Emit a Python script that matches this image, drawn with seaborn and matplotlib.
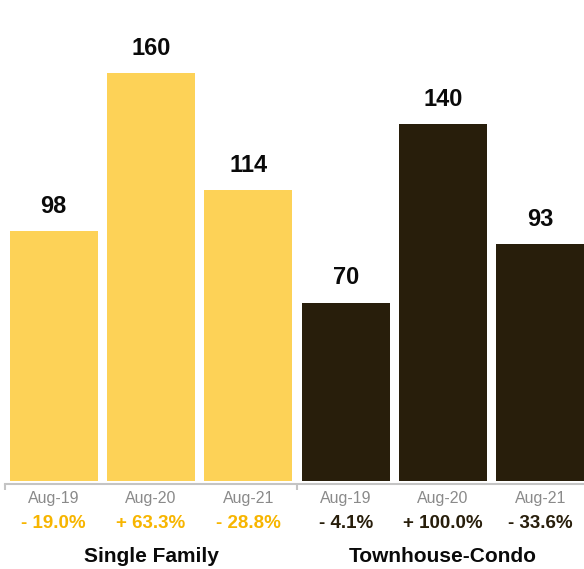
import matplotlib
matplotlib.use("Agg")
import matplotlib.pyplot as plt
import matplotlib.transforms as mtransforms
import seaborn as sns
import pandas as pd

# Closed sales by property type, same month across three years
groups = ["Single Family", "Single Family", "Single Family",
          "Townhouse-Condo", "Townhouse-Condo", "Townhouse-Condo"]
periods = ["Aug-19", "Aug-20", "Aug-21", "Aug-19", "Aug-20", "Aug-21"]
values = [98, 160, 114, 70, 140, 93]
changes = ["- 19.0%", "+ 63.3%", "- 28.8%", "- 4.1%", "+ 100.0%", "- 33.6%"]
group_names = ["Single Family", "Townhouse-Condo"]

bar_colors = {"Single Family": "#fdd257", "Townhouse-Condo": "#281e0b"}
change_colors = {"Single Family": "#f7b500", "Townhouse-Condo": "#281e0b"}

df = pd.DataFrame({
    "slot": [f"{g} {p}" for g, p in zip(groups, periods)],
    "group": groups,
    "period": periods,
    "value": values,
})

sns.set_style("white")
plt.rcParams["font.family"] = ["Liberation Sans", "DejaVu Sans"]

W, H = 584, 569
fig = plt.figure(figsize=(W / 100, H / 100), dpi=100)
ax = fig.add_axes([5 / W, 88 / H, 584 / W, 481 / H])

sns.barplot(data=df, x="slot", y="value", hue="group", palette=bar_colors,
            dodge=False, width=0.905, legend=False, ax=ax, saturation=1,
            linewidth=0, edgecolor="none")

ax.set_xlim(-0.5, 5.5)
ax.set_ylim(0, 481 / 2.55)

for cont in ax.containers:
    ax.bar_label(cont, fmt="%d", padding=9.5, fontsize=17, fontweight="bold",
                 color="#0a0a0a")

# Axis styling: only a light bottom rule with ticks at group boundaries
for side in ["top", "left", "right"]:
    ax.spines[side].set_visible(False)
ax.spines["bottom"].set_color("#c4c4c4")
ax.spines["bottom"].set_linewidth(1.5)
ax.spines["bottom"].set_position(("outward", 2.5))
ax.set_yticks([])
ax.set_xlabel("")
ax.set_ylabel("")
ax.set_xticks(range(len(periods)))
ax.set_xticklabels(periods, fontsize=11.5, color="#8a8a8a")
ax.tick_params(axis="x", which="major", length=0, pad=5)
ax.set_xticks([-0.5, 2.5, 5.5], minor=True)
ax.tick_params(axis="x", which="minor", bottom=True, length=4, width=1.5,
               color="#c4c4c4")

trans = mtransforms.blended_transform_factory(ax.transData, fig.transFigure)
for i, (g, c) in enumerate(zip(groups, changes)):
    ax.text(i, 1 - 523 / H, c, transform=trans, ha="center", va="center",
            fontsize=13.5, fontweight="bold", color=change_colors[g])

for k, name in enumerate(group_names):
    ax.text(3 * k + 1, 1 - 556 / H, name, transform=trans, ha="center",
            va="center", fontsize=15, fontweight="bold", color="#0a0a0a")

fig.savefig("out.png", dpi=100)
